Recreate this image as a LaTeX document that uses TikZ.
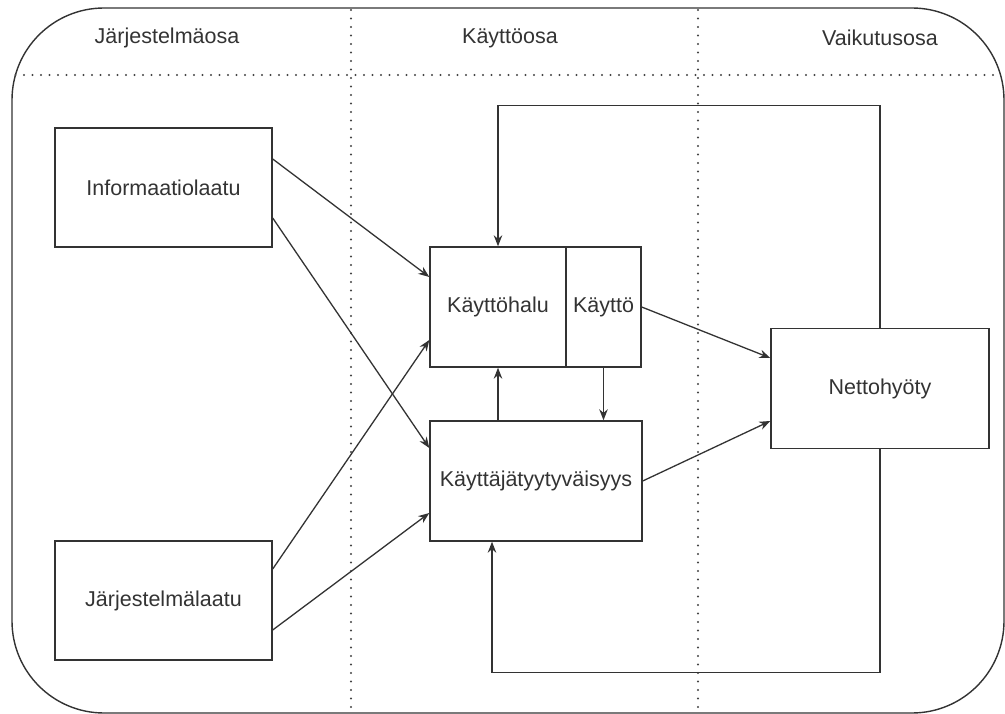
\documentclass[tikz,border=0pt]{standalone}
\usepackage{fontspec}
\setmainfont{Liberation Sans}
\usetikzlibrary{arrows.meta}
\definecolor{ink}{HTML}{333333}
\definecolor{dotc}{HTML}{444444}
\begin{document}
\begin{tikzpicture}[x=1pt,y=-1pt,
  every node/.style={font=\fontsize{21.5}{25}\selectfont, text=ink},
  box/.style={draw=ink, line width=1.4pt, inner sep=0pt},
  arr/.style={draw=ink, line width=1.3pt, -{Stealth[length=11pt,width=8.5pt]}},
  dotline/.style={draw=dotc, line width=2.2pt, line cap=round, dash pattern=on 0pt off 8.5pt},
  hdr/.style={}]
\useasboundingbox (0,0) rectangle (1005,714);
% outer frame
\draw[ink, line width=1.4pt, rounded corners=92pt] (12,8) rectangle (1004,713);
% dotted separators
\draw[dotline] (15.5,75) -- (1000.5,75);
\draw[dotline] (351,10) -- (351,712);
\draw[dotline] (698,10) -- (698,712);
% headers
\node[hdr] (h1) at (167,38) {Järjestelmäosa};
\node[hdr] (h2) at (510,38) {Käyttöosa};
\node[hdr] (h3) at (880,38) {Vaikutusosa};
% boxes
\node[box, minimum width=217pt, minimum height=119pt] (info) at (163.5,187.5) {Informaatiolaatu};
\node[box, minimum width=217pt, minimum height=119pt] (jl) at (163.5,600.5) {Järjestelmälaatu};
\node[box, minimum width=136pt, minimum height=120pt] (kh) at (498,307) {Käyttöhalu};
\node[box, minimum width=75pt, minimum height=120pt] (k) at (603.5,307) {Käyttö};
\node[box, minimum width=212pt, minimum height=120pt] (ktt) at (536,481) {Käyttäjätyytyväisyys};
\node[box, minimum width=218pt, minimum height=120pt] (nh) at (880,388.5) {Nettohyöty};
% arrows
\draw[arr] ([yshift=28.5pt]info.east) -- ([yshift=30pt]kh.west);
\draw[arr] ([yshift=-30.5pt]info.east) -- ([yshift=33pt]ktt.west);
\draw[arr] ([yshift=31.5pt]jl.east) -- ([yshift=-33pt]kh.west);
\draw[arr] ([yshift=-29.5pt]jl.east) -- ([yshift=-32pt]ktt.west);
\draw[arr] (k.east) -- ([yshift=30.5pt]nh.west);
\draw[arr] (ktt.east) -- ([yshift=-32.5pt]nh.west);
\draw[arr] (kh.south |- ktt.north) -- (kh.south);
\draw[arr] (k.south) -- (k.south |- ktt.north);
\draw[arr] (nh.north) |- ([yshift=141pt]kh.north) -- (kh.north);
\draw[arr] (nh.south) |- ([xshift=-44pt,yshift=-131pt]ktt.south) -- ([xshift=-44pt]ktt.south);
\end{tikzpicture}
\end{document}
